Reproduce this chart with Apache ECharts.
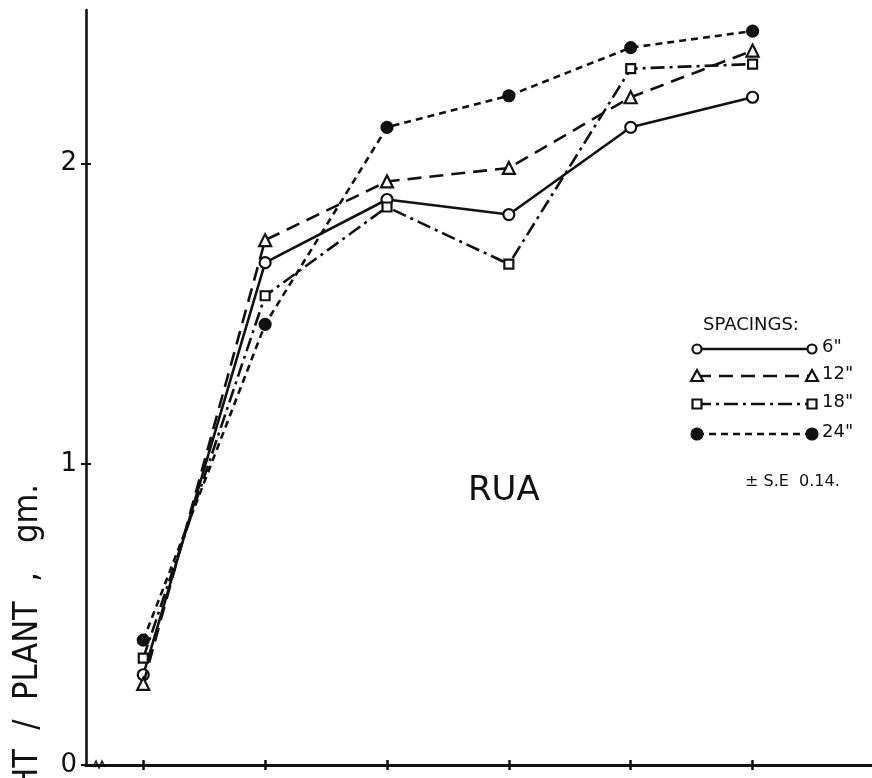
<!DOCTYPE html>
<html>
<head>
<meta charset="utf-8">
<script src="https://cdn.jsdelivr.net/npm/echarts@6/dist/echarts.min.js"></script>
<style>
html,body{margin:0;padding:0;background:#fff;}
#chart{width:872px;height:778px;}
</style>
</head>
<body>
<div id="chart"></div>
<script>
// ---- data ----
var xPositions = [1, 2, 3, 4, 5, 6];
var s6  = [0.30, 1.67, 1.88, 1.83, 2.12, 2.22];
var s12 = [0.27, 1.745, 1.94, 1.985, 2.22, 2.375];
var s18 = [0.355, 1.56, 1.855, 1.665, 2.315, 2.33];
var s24 = [0.415, 1.465, 2.12, 2.225, 2.385, 2.44];
var seriesNames = ['6"', '12"', '18"', '24"'];
var yTicks = [0, 1, 2];

function pts(arr){ return xPositions.map(function(x,i){ return [x, arr[i]]; }); }

var INK = '#111';
var FONT = '"DejaVu Sans", sans-serif';

var styles = [
  {data: s6,  symbol: 'circle',   size: 11, fill: '#fff', dash: 'solid'},
  {data: s12, symbol: 'triangle', size: 12, fill: '#fff', dash: [14, 8]},
  {data: s18, symbol: 'rect',     size: 9,  fill: '#fff', dash: [14, 5, 3, 5]},
  {data: s24, symbol: 'circle',   size: 11, fill: INK,    dash: [7, 5]}
];

var series = styles.map(function(s, i){
  return {
    name: seriesNames[i],
    type: 'line',
    data: pts(s.data),
    symbol: s.symbol,
    symbolSize: s.size,
    showAllSymbol: true,
    lineStyle: {color: INK, width: 2.6, type: s.dash},
    itemStyle: {color: s.fill, borderColor: INK, borderWidth: 2.2},
    emphasis: {disabled: true},
    z: 3 + i
  };
});

// ---- legend drawn as graphics ----
var legendRows = [349, 376, 404, 434];
var graphics = [];
graphics.push({type:'text', left: 703, top: 316, style:{text:'SPACINGS:', font:'18px ' + FONT, fill: INK}});
function symbolGraphic(kind, cx, cy, fill){
  if (kind === 'circle') return {type:'circle', shape:{cx:cx, cy:cy, r: fill === INK ? 5.5 : 4.5}, style:{fill:fill, stroke:INK, lineWidth:2.2}, z:10};
  if (kind === 'triangle') return {type:'polygon', shape:{points:[[cx,cy-6],[cx-6,cy+5],[cx+6,cy+5]]}, style:{fill:fill, stroke:INK, lineWidth:2.2}, z:10};
  return {type:'rect', shape:{x:cx-4.5, y:cy-4.5, width:9, height:9}, style:{fill:fill, stroke:INK, lineWidth:2.2}, z:10};
}
styles.forEach(function(s, i){
  var y = legendRows[i];
  graphics.push({type:'line', shape:{x1:697, y1:y, x2:812, y2:y}, style:{stroke:INK, lineWidth:2.6, lineDash: s.dash === 'solid' ? null : s.dash}, z:9});
  graphics.push(symbolGraphic(s.symbol, 697, y, s.fill));
  graphics.push(symbolGraphic(s.symbol, 812, y, s.fill));
  graphics.push({type:'text', left: 822, top: y - 11, style:{text: seriesNames[i], font:'18px ' + FONT, fill: INK}});
});
// title in plot, SE note
graphics.push({type:'text', left: 468, top: 474, style:{text:'RUA', font:'34px ' + FONT, fill: INK}});
graphics.push({type:'text', left: 745, top: 474, style:{text:'\u00B1 S.E  0.14.', font:'16px ' + FONT, fill: INK}});
// y-axis name (cut off at bottom like the original)
graphics.push({type:'text', x: 28, y: 484, rotation: Math.PI/2,
  style:{text:'HT  /  PLANT  ,   gm.', font:'34px "DejaVu Sans Condensed", "DejaVu Sans", sans-serif', fill: INK, align:'right', verticalAlign:'middle'}});
// axis-break squiggle
graphics.push({type:'polyline', shape:{points:[[93,767],[96,761],[99,768],[102,761],[105,767]]}, style:{stroke:INK, lineWidth:1.4, fill:null}, z:10});

var axisCommonX = {
  type: 'value', min: 0.53, max: 6.98,
  axisLine: {show: true, onZero: false, lineStyle: {color: INK, width: 3}},
  splitLine: {show: false}, axisLabel: {show: false}
};
var axisCommonY = {
  type: 'value', min: 0, max: 2.51, interval: 1,
  splitLine: {show: false}
};

var option = {
  backgroundColor: '#fff',
  animation: false,
  grid: {left: 86, right: 0, top: 10, bottom: 11, containLabel: false},
  xAxis: [
    Object.assign({}, axisCommonX, {axisTick: {show: true, customValues: xPositions, length: 5, inside: false, lineStyle: {color: INK, width: 2.5}}}),
    Object.assign({}, axisCommonX, {position: 'bottom', axisTick: {show: true, customValues: xPositions, length: 5, inside: true, lineStyle: {color: INK, width: 2.5}}})
  ],
  yAxis: [
    Object.assign({}, axisCommonY, {
      axisLine: {show: true, lineStyle: {color: INK, width: 2.6}},
      axisTick: {show: true, length: 5, customValues: yTicks, lineStyle: {color: INK, width: 2}},
      axisLabel: {show: true, color: INK, fontSize: 26, fontFamily: FONT, margin: 9,
        customValues: yTicks}
    }),
    Object.assign({}, axisCommonY, {
      position: 'left',
      axisLine: {show: false},
      axisTick: {show: true, inside: true, length: 5, customValues: yTicks, lineStyle: {color: INK, width: 2}},
      axisLabel: {show: false}
    })
  ],
  series: series,
  graphic: graphics
};

var chart = echarts.init(document.getElementById('chart'), null, {renderer: 'canvas'});
chart.setOption(option);
</script>
</body>
</html>
